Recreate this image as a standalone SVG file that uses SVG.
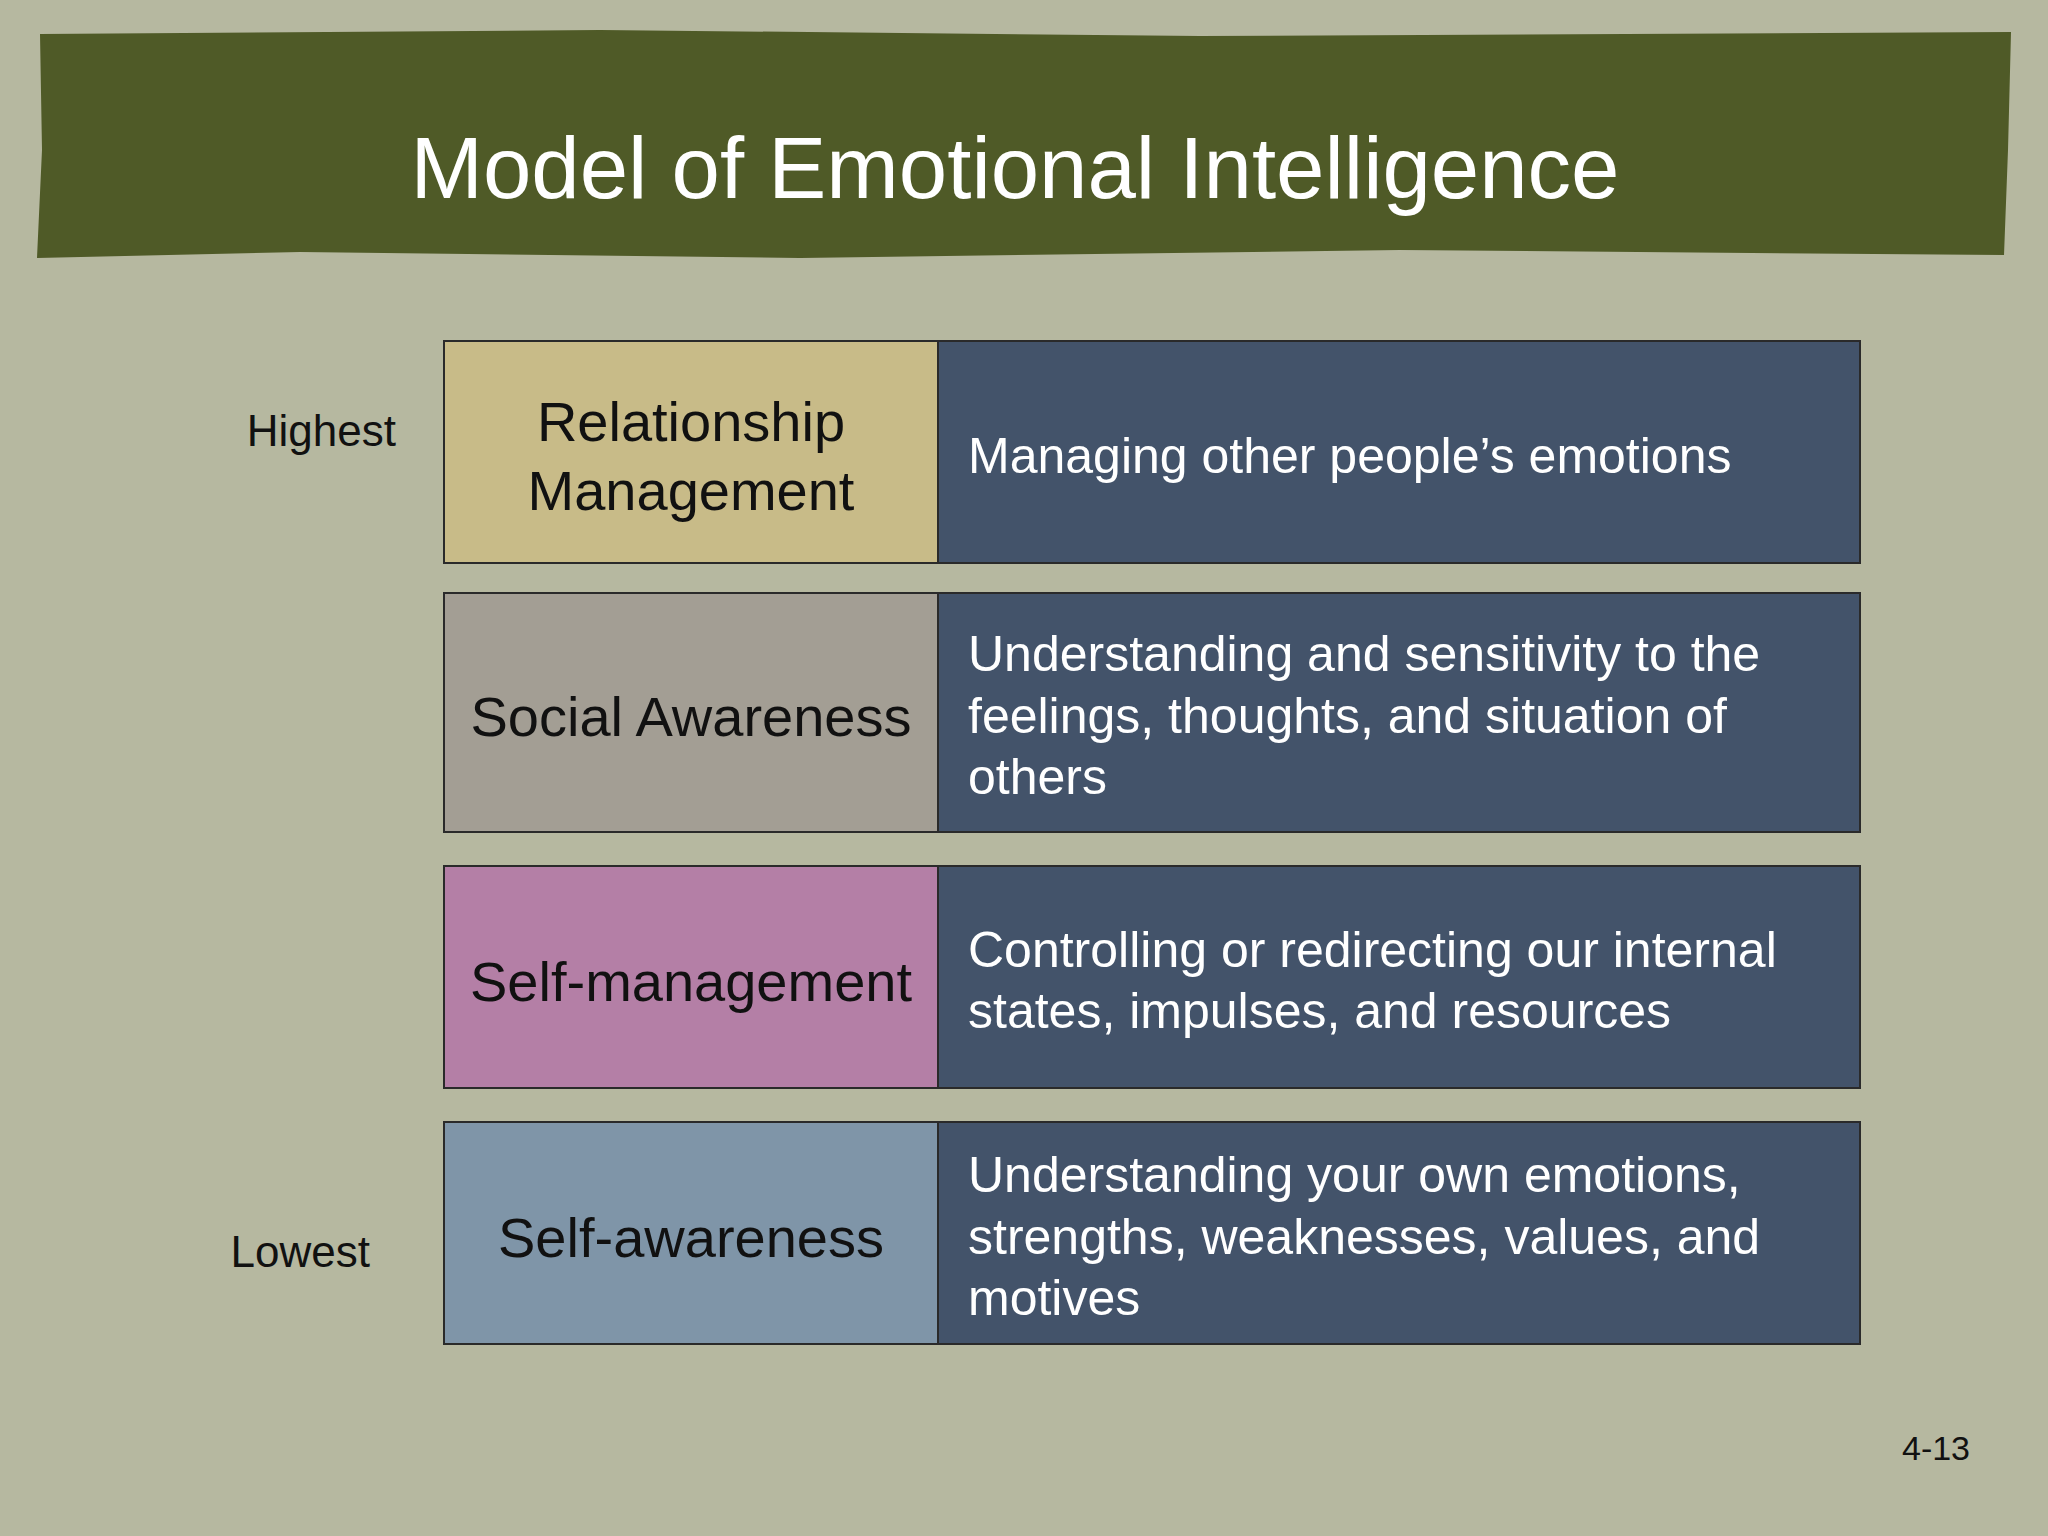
<svg xmlns="http://www.w3.org/2000/svg" width="2048" height="1536" viewBox="0 0 2048 1536">
<style>
text{font-family:"Liberation Sans",Arial,sans-serif;dominant-baseline:central}
.box{stroke:#2a2a2a;stroke-width:2}
.lab{font-size:56px;fill:#111;text-anchor:middle}
.desc{font-size:50px;fill:#fff}
.side{font-size:44px;fill:#111}
.right{fill:#43536a}
</style>
<rect width="2048" height="1536" fill="#b6b8a0"/>
<g id="banner">
<path d="M40,34 L600,30 L1200,36 L2011,32 L2008,150 L2004,255 L1400,250 L800,258 L300,252 L37,258 L42,150 Z" fill="#4f5a27"/>
<text x="1015" y="167" font-size="87" fill="#fff" text-anchor="middle">Model of Emotional Intelligence</text>
</g>
<g id="row1">
<rect class="box" x="444" y="341" width="494" height="222" fill="#c8bb88"/>
<rect class="box right" x="938" y="341" width="922" height="222"/>
<text class="lab" x="691" y="421">Relationship</text>
<text class="lab" x="691" y="490">Management</text>
<text class="desc" x="968" y="456">Managing other people’s emotions</text>
</g>
<g id="row2">
<rect class="box" x="444" y="593" width="494" height="239" fill="#a39e94"/>
<rect class="box right" x="938" y="593" width="922" height="239"/>
<text class="lab" x="691" y="716">Social Awareness</text>
<text class="desc" x="968" y="654">Understanding and sensitivity to the</text>
<text class="desc" x="968" y="716">feelings, thoughts, and situation of</text>
<text class="desc" x="968" y="777">others</text>
</g>
<g id="row3">
<rect class="box" x="444" y="866" width="494" height="222" fill="#b47fa6"/>
<rect class="box right" x="938" y="866" width="922" height="222"/>
<text class="lab" x="691" y="981">Self-management</text>
<text class="desc" x="968" y="950">Controlling or redirecting our internal</text>
<text class="desc" x="968" y="1011">states, impulses, and resources</text>
</g>
<g id="row4">
<rect class="box" x="444" y="1122" width="494" height="222" fill="#7f95a8"/>
<rect class="box right" x="938" y="1122" width="922" height="222"/>
<text class="lab" x="691" y="1237">Self-awareness</text>
<text class="desc" x="968" y="1175">Understanding your own emotions,</text>
<text class="desc" x="968" y="1237">strengths, weaknesses, values, and</text>
<text class="desc" x="968" y="1298">motives</text>
</g>
<g id="labels">
<text class="side" x="396" y="430" text-anchor="end">Highest</text>
<text class="side" x="370" y="1251" text-anchor="end">Lowest</text>
<text x="1936" y="1448" font-size="34" fill="#111" text-anchor="middle">4-13</text>
</g>
<g id="connectors"></g>
</svg>
